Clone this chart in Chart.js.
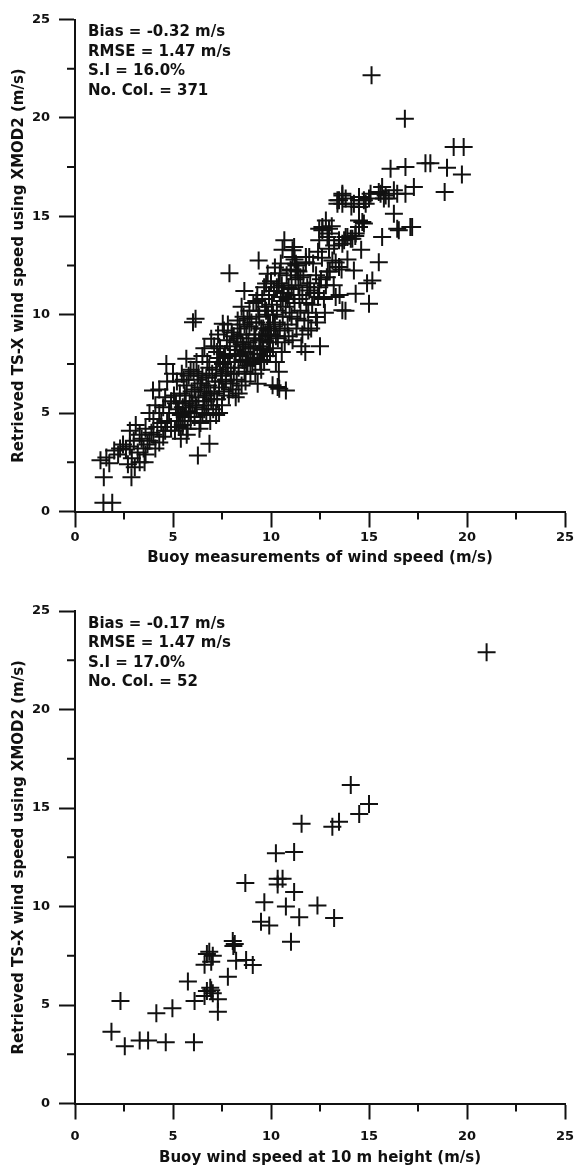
<!DOCTYPE html>
<html><head><meta charset="utf-8">
<script src="https://cdn.jsdelivr.net/npm/chart.js@4.4.1/dist/chart.umd.min.js"></script>
<style>
html,body{margin:0;padding:0;background:#fff;}
#wrap{position:relative;width:576px;height:1167px;overflow:hidden;background:#fff;}
.panel{position:absolute;left:0;width:576px;}
.stats{position:absolute;left:88px;font-family:"DejaVu Sans",sans-serif;font-weight:bold;font-size:15px;line-height:19.5px;color:#111;white-space:nowrap;}
</style></head><body>
<div id="wrap">
  <div class="panel" style="top:0;height:583px"><canvas id="c1"></canvas></div>
  <div class="panel" style="top:583px;height:584px"><canvas id="c2"></canvas></div>
  <div class="stats" id="s1" style="top:22px"></div>
  <div class="stats" id="s2" style="top:613.5px"></div>
</div>
<script>
// ---------------- data ----------------
const axisTicks = [0, 5, 10, 15, 20, 25];
const minorTickValues = [2.5, 7.5, 12.5, 17.5, 22.5];
const xTitleTop = "Buoy measurements of wind speed (m/s)";
const xTitleBottom = "Buoy wind speed at 10 m height (m/s)";
const yTitle = "Retrieved TS-X wind speed using XMOD2 (m/s)";
const topStats = ["Bias = -0.32 m/s", "RMSE = 1.47 m/s", "S.I = 16.0%", "No. Col. = 371"];
const bottomStats = ["Bias = -0.17 m/s", "RMSE = 1.47 m/s", "S.I = 17.0%", "No. Col. = 52"];

// top panel: [buoy, retrieved]
const topLow = [[1.45,0.45],[1.9,0.45],[1.47,1.74],[2.88,1.74],[1.3,2.6],[1.6,2.75],[1.75,2.45],[2.0,3.1],[2.3,3.2],[2.6,3.15],
[2.45,3.4],[2.8,3.3],[2.9,2.7],[3.05,2.25],[3.3,2.5],[3.55,2.5],[3.2,3.0],[3.5,3.2],[3.7,3.4],[2.8,4.1],
[3.3,3.9],[3.6,4.2],[3.9,4.0],[3.0,3.6],[3.4,3.7],[3.8,3.6],[4.0,3.9],[4.2,4.3],[4.1,3.2],[4.3,3.5],
[4.5,3.8],[4.6,4.1],[3.98,6.15],[3.8,5.0],[4.0,4.7],[4.3,5.0],[4.5,5.3],[4.7,4.6],[4.9,4.3],[4.8,5.0],
[4.4,4.5],[4.66,7.5],[4.3,6.2],[4.6,5.8],[4.9,5.6],[2.2,2.9],[2.7,2.4],[3.1,4.4],[3.6,2.9],[4.1,5.4],[4.7,6.6],[5.0,7.0]];
const topX5 = [[5.1,4.1],[5.2,4.6],[5.3,5.0],[5.15,5.5],[5.4,3.7],[5.35,6.0],[5.5,4.4],[5.5,5.3],[5.6,4.8],[5.6,5.9],
[5.7,6.4],[5.75,4.2],[5.8,5.1],[5.85,5.6],[5.9,4.6],[5.95,6.1],[5.2,6.6],[5.45,7.0],[5.68,7.76],[5.9,7.2],
[5.3,4.3],[5.7,3.9],[5.55,6.7],[5.05,5.9],[5.8,6.9],[6.0,5.4],[5.25,5.2],[5.65,5.5],[5.4,4.9],[5.9,5.0]];
const topX6 = [[6.02,9.62],[6.15,9.8],[6.27,2.85],[6.86,3.44],[6.1,4.8],[6.2,5.3],[6.3,5.8],[6.1,6.2],[6.4,4.5],[6.45,6.5],
[6.5,5.0],[6.55,5.6],[6.6,6.1],[6.7,4.9],[6.7,6.8],[6.8,5.4],[6.85,7.3],[6.9,6.0],[6.95,8.78],[6.3,7.0],
[6.2,7.6],[6.5,7.9],[6.6,8.3],[6.75,7.6],[6.9,4.6],[6.4,6.3],[6.15,5.6],[6.6,5.2],[6.35,4.2],[6.8,6.4],
[6.05,7.1],[6.95,5.7],[6.5,6.9],[6.25,6.7],[6.7,5.9]];
const topX7 = [[7.05,5.2],[7.1,6.0],[7.15,6.6],[7.2,7.2],[7.25,5.7],[7.3,7.8],[7.35,6.3],[7.4,8.3],[7.45,6.9],[7.5,5.4],
[7.54,9.54],[7.55,7.5],[7.6,6.1],[7.65,8.0],[7.7,6.7],[7.75,8.7],[7.8,7.3],[7.85,5.9],[7.88,12.1],[7.9,7.9],
[7.95,6.5],[7.1,8.4],[7.3,9.0],[7.6,9.2],[7.2,4.9],[7.5,6.6],[7.9,8.4],[7.4,7.6],[7.7,7.1],[7.0,7.0],
[7.8,9.5],[7.35,5.0],[7.95,7.0],[7.6,7.8],[7.25,8.1]];
const topX8 = [[8.05,6.2],[8.1,7.0],[8.15,7.6],[8.2,8.2],[8.25,6.7],[8.3,8.8],[8.35,7.3],[8.4,9.3],[8.45,7.9],[8.5,6.4],
[8.55,8.5],[8.6,9.9],[8.64,11.2],[8.65,7.1],[8.7,8.1],[8.75,9.0],[8.8,7.6],[8.85,8.6],[8.9,10.2],[8.95,7.0],
[8.1,8.9],[8.3,9.7],[8.5,10.4],[8.2,5.8],[8.7,6.6],[8.9,9.4],[8.4,8.0],[8.6,8.4],[8.8,9.8],[8.0,9.1],
[8.35,6.0],[8.75,7.4],[8.15,7.9],[8.55,7.7],[8.95,8.3],[8.45,9.0],[8.25,8.6],[8.65,9.5]];
const topX9 = [[9.05,7.5],[9.1,8.3],[9.15,9.0],[9.2,7.0],[9.25,9.6],[9.3,8.0],[9.32,6.49],[9.35,10.2],[9.37,12.76],[9.4,8.7],
[9.45,7.7],[9.5,9.3],[9.55,10.8],[9.6,8.2],[9.65,11.4],[9.7,9.0],[9.75,11.58],[9.8,7.9],[9.83,12.08],[9.85,10.0],
[9.9,8.6],[9.95,9.5],[9.1,10.6],[9.3,11.0],[9.5,7.2],[9.7,10.4],[9.9,11.0],[9.2,8.8],[9.4,9.9],[9.6,9.3],
[9.8,8.9],[9.0,9.6],[9.45,8.4],[9.65,7.6],[9.25,10.7],[9.85,9.2],[9.55,8.7],[9.15,7.8],[9.75,10.2],[9.95,8.1]];
const topX10 = [[10.0,9.0],[10.05,10.5],[10.08,6.41],[10.1,8.3],[10.15,11.2],[10.2,9.6],[10.25,7.6],[10.3,10.2],[10.34,6.32],[10.35,8.8],
[10.4,11.6],[10.45,9.3],[10.5,10.7],[10.55,8.1],[10.59,13.3],[10.6,9.9],[10.65,11.1],[10.68,13.78],[10.7,8.6],[10.75,10.4],
[10.8,12.0],[10.85,9.5],[10.9,11.4],[10.95,10.1],[10.42,6.24],[10.76,6.15],[10.2,12.4],[10.5,12.6],[10.1,10.0],[10.3,11.4],
[10.6,10.9],[10.9,8.9],[10.0,11.7],[10.4,7.1],[10.7,9.2],[10.25,8.9],[10.85,10.8],[10.55,11.5],[10.15,9.4],[10.45,12.1]];
const topX11 = [[11.0,12.3],[11.02,12.25],[11.1,13.27],[11.1,12.93],[11.15,11.0],[11.18,13.44],[11.2,12.8],[11.27,12.59],[11.3,12.5],[11.35,12.25],
[11.4,12.2],[11.05,9.9],[11.2,10.6],[11.3,9.3],[11.4,11.5],[11.5,10.2],[11.55,8.4],[11.6,11.0],[11.7,9.7],[11.78,12.93],
[11.78,12.67],[11.8,10.6],[11.85,11.4],[11.9,9.2],[11.95,11.23],[11.95,12.93],[11.1,8.7],[11.25,11.8],[11.45,10.8],[11.65,12.0],
[11.75,8.1],[11.35,9.8],[11.6,9.0],[11.05,11.3],[11.5,11.9],[11.9,10.1]];
const topX12 = [[12.0,11.6],[12.1,10.5],[12.2,11.1],[12.29,9.88],[12.3,12.0],[12.4,10.9],[12.46,11.4],[12.46,14.37],[12.46,13.78],[12.5,8.4],
[12.55,11.8],[12.62,14.45],[12.62,14.29],[12.7,10.8],[12.8,14.79],[12.8,11.5],[12.88,13.95],[12.9,12.2],[12.96,14.37],[12.96,14.12],
[12.96,13.35],[12.15,12.6],[12.35,9.6],[12.6,12.9],[12.75,10.1],[12.05,9.3],[12.85,11.9],[12.4,13.2]];
const topX13 = [[13.0,12.2],[13.13,12.76],[13.22,13.52],[13.3,12.65],[13.39,15.81],[13.39,15.64],[13.47,13.78],[13.47,12.42],[13.47,15.81],[13.6,12.3],
[13.64,16.06],[13.64,16.15],[13.64,15.64],[13.64,13.61],[13.64,10.22],[13.8,10.2],[13.73,13.78],[13.81,13.95],[13.81,15.9],[13.9,13.95],
[13.2,11.5],[13.5,11.0],[13.9,12.8],[13.1,14.5],[13.3,10.9]];
const topX14 = [[14.07,13.86],[14.15,13.86],[14.23,12.25],[14.23,15.64],[14.32,11.07],[14.32,14.12],[14.49,15.98],[14.49,15.47],[14.49,14.79],[14.49,14.45],
[14.49,15.81],[14.66,14.71],[14.74,15.81],[14.74,14.63],[14.83,15.64],[14.1,15.5],[14.3,14.0],[14.6,13.3],[14.9,11.6]];
const topHigh = [[15.0,15.9],[15.0,10.56],[15.08,16.15],[15.13,22.17],[15.17,11.74],[15.5,16.23],[15.5,12.67],[15.59,16.15],[15.67,13.95],[15.67,16.49],
[15.76,15.9],[15.85,16.06],[16.01,15.9],[16.1,17.42],[16.27,16.32],[16.27,15.13],[16.44,14.37],[16.44,16.15],[16.52,14.29],[16.83,19.96],
[16.86,17.5],[16.86,16.15],[17.11,14.45],[17.2,14.45],[17.29,16.49],[17.88,17.7],[18.13,17.7],[18.86,16.23],[18.98,17.47],[19.32,18.52],
[19.74,17.12],[19.83,18.52]];

// bottom panel: [buoy, retrieved]
const bottomPairs = [[14.07,16.17],[14.5,14.7],[15.0,15.2],[13.13,14.05],[13.47,14.3],[11.56,14.2],[10.25,12.7],[11.18,12.77],[8.69,11.19],[10.34,11.41],
[10.59,11.41],[10.34,11.12],[11.18,10.73],[9.66,10.22],[10.76,10.0],[12.37,10.05],[11.44,9.45],[13.22,9.42],[9.49,9.23],[9.91,9.03],
[11.02,8.21],[8.05,8.25],[8.08,8.0],[6.73,7.59],[7.03,7.5],[6.95,7.2],[6.61,7.04],[8.73,7.28],[9.07,7.03],[8.22,7.24],
[7.8,6.43],[5.76,6.19],[6.9,5.88],[6.73,5.71],[7.03,5.6],[6.61,5.46],[7.29,5.29],[6.1,5.2],[7.29,4.66],[2.32,5.2],
[4.15,4.58],[4.97,4.83],[1.86,3.64],[2.54,2.91],[3.3,3.2],[3.73,3.2],[4.63,3.11],[6.07,3.11],[21.0,22.9],[6.85,7.7],
[6.95,5.75],[8.15,8.1]];

const topPairs = [].concat(topLow, topX5, topX6, topX7, topX8, topX9, topX10, topX11, topX12, topX13, topX14, topHigh);

// ---------------- styling ----------------
const FONT = '"DejaVu Sans", sans-serif';
const INK = '#111111';
const MINOR_LEN = 8;

document.getElementById('s1').innerHTML = topStats.map(s => '<div>' + s + '</div>').join('');
document.getElementById('s2').innerHTML = bottomStats.map(s => '<div>' + s + '</div>').join('');

const minorTickPlugin = {
  id: 'minorTicks',
  afterDraw(chart) {
    const {ctx, chartArea, scales} = chart;
    ctx.save();
    ctx.strokeStyle = INK;
    ctx.lineWidth = 2;
    ctx.beginPath();
    for (const v of minorTickValues) {
      const px = scales.x.getPixelForValue(v);
      ctx.moveTo(px, chartArea.bottom);
      ctx.lineTo(px, chartArea.bottom + MINOR_LEN);
      const py = scales.y.getPixelForValue(v);
      ctx.moveTo(chartArea.left, py);
      ctx.lineTo(chartArea.left - MINOR_LEN, py);
    }
    ctx.stroke();
    ctx.restore();
  }
};

function makeChart(id, pairs, xTitle, L) {
  return new Chart(document.getElementById(id), {
    type: 'scatter',
    data: { datasets: [{
      data: pairs.map(p => ({x: p[0], y: p[1]})),
      pointStyle: 'cross', pointRadius: 9, pointHoverRadius: 9,
      pointBorderWidth: 2, pointBorderColor: INK, pointBackgroundColor: INK,
      showLine: false, clip: false
    }]},
    options: {
      responsive: true, maintainAspectRatio: false, animation: false,
      events: [],
      layout: { padding: { top: L.padTop, right: 9, left: 0, bottom: 0 } },
      plugins: { legend: { display: false }, tooltip: { enabled: false } },
      scales: {
        x: {
          type: 'linear', min: 0, max: 25,
          afterBuildTicks: s => { s.ticks = axisTicks.map(v => ({value: v})); },
          ticks: { font: { family: FONT, size: 13, weight: 'bold' }, color: INK, padding: L.xTickPad, maxRotation: 0, autoSkip: false },
          grid: { display: true, drawOnChartArea: false, drawTicks: true, tickLength: 16, tickWidth: 2, tickColor: INK },
          border: { display: true, color: INK, width: 2 },
          title: { display: true, text: xTitle, color: INK, font: { family: FONT, size: 15, weight: 'bold' }, padding: { top: 0, bottom: L.xTitlePad } },
          afterFit: s => { s.height = L.xAxisH; s.paddingLeft = 0; s.paddingRight = 0; }
        },
        y: {
          type: 'linear', min: 0, max: 25,
          afterBuildTicks: s => { s.ticks = axisTicks.map(v => ({value: v})); },
          ticks: { font: { family: FONT, size: 13, weight: 'bold' }, color: INK, padding: 9 },
          grid: { display: true, drawOnChartArea: false, drawTicks: true, tickLength: 16, tickWidth: 2, tickColor: INK },
          border: { display: true, color: INK, width: 2 },
          title: { display: true, text: yTitle, color: INK, font: { family: FONT, size: 15, weight: 'bold' }, padding: { top: 10, bottom: 0 } },
          afterFit: s => { s.width = 75; s.paddingTop = 0; s.paddingBottom = 0; }
        }
      }
    },
    plugins: [minorTickPlugin]
  });
}

makeChart('c1', topPairs, xTitleTop, { padTop: 19.5, xAxisH: 71.5, xTickPad: 2, xTitlePad: 16 });
makeChart('c2', bottomPairs, xTitleBottom, { padTop: 28, xAxisH: 63.5, xTickPad: 9, xTitlePad: 0 });
</script>
</body></html>
